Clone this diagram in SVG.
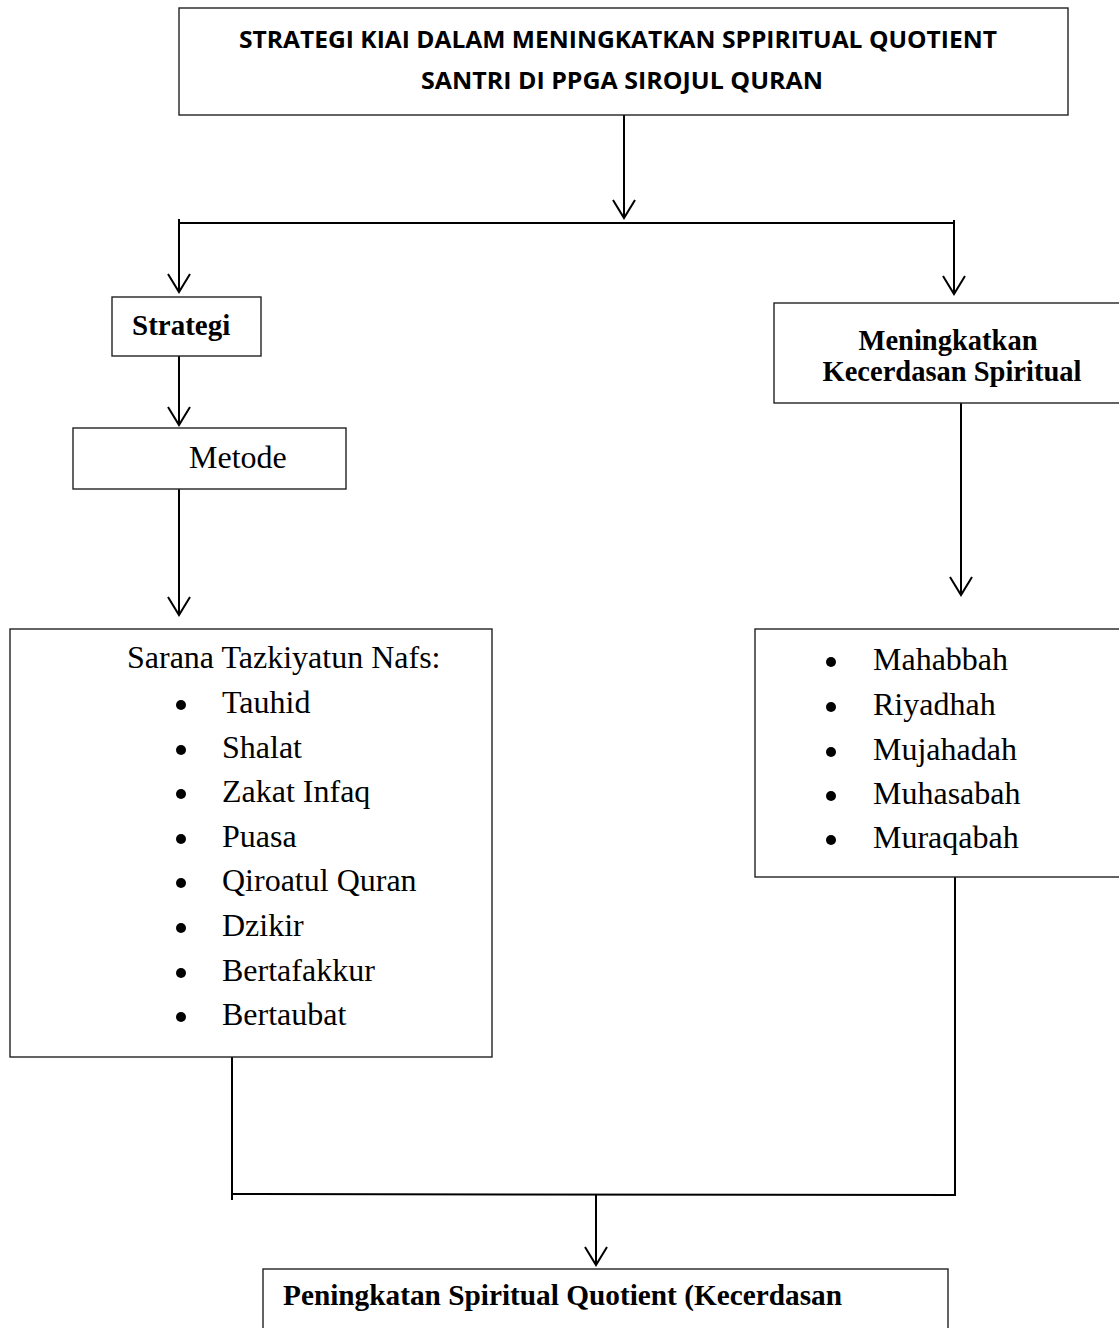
<svg xmlns="http://www.w3.org/2000/svg" width="1119" height="1328" viewBox="0 0 1119 1328">
<style>
.box{fill:#fff;stroke:#222;stroke-width:1.4}
.con{fill:none;stroke:#000;stroke-width:2}
.title{font-family:"Open Sans","Liberation Sans",sans-serif;font-weight:bold;font-size:22.5px;fill:#000}
.tb{font-family:"Liberation Serif",serif;font-weight:bold;fill:#000}
.tr{font-family:"Liberation Serif",serif;font-size:32px;fill:#000}
.dot{fill:#000}
</style>
<defs>
<marker id="arr" viewBox="-1 -1 21 25" refX="18" refY="11" markerWidth="21" markerHeight="25" orient="auto" markerUnits="userSpaceOnUse">
<path d="M0,0 L18,11 L0,22" fill="none" stroke="#000" stroke-width="2"/>
</marker>
</defs>
<rect width="1119" height="1328" fill="#fff"/>
<g id="connectors">
<line class="con" x1="624" y1="115" x2="624" y2="218" marker-end="url(#arr)"/>
<line class="con" x1="179" y1="223" x2="954" y2="223"/>
<line class="con" x1="179" y1="219" x2="179" y2="292" marker-end="url(#arr)"/>
<line class="con" x1="954" y1="220" x2="954" y2="294" marker-end="url(#arr)"/>
<line class="con" x1="179" y1="356" x2="179" y2="425" marker-end="url(#arr)"/>
<line class="con" x1="179" y1="489" x2="179" y2="615" marker-end="url(#arr)"/>
<line class="con" x1="961" y1="403" x2="961" y2="595" marker-end="url(#arr)"/>
<line class="con" x1="232" y1="1057" x2="232" y2="1200"/>
<line class="con" x1="955" y1="877" x2="955" y2="1196"/>
<line class="con" x1="232" y1="1194" x2="955" y2="1195"/>
<line class="con" x1="596" y1="1194" x2="596" y2="1265" marker-end="url(#arr)"/>
</g>
<g id="node-title">
<rect class="box" x="179" y="8" width="889" height="107"/>
<text class="title" x="239" y="48" textLength="758" lengthAdjust="spacingAndGlyphs">STRATEGI KIAI DALAM MENINGKATKAN SPPIRITUAL QUOTIENT</text>
<text class="title" x="421" y="89" textLength="402" lengthAdjust="spacingAndGlyphs">SANTRI DI PPGA SIROJUL QURAN</text>
</g>
<g id="node-strategi">
<rect class="box" x="112" y="297" width="149" height="59"/>
<text class="tb" x="132" y="335" font-size="29">Strategi</text>
</g>
<g id="node-metode">
<rect class="box" x="73" y="428" width="273" height="61"/>
<text class="tr" x="189" y="468" font-size="31.5">Metode</text>
</g>
<g id="node-meningkatkan">
<rect class="box" x="774" y="303" width="360" height="100"/>
<text class="tb" x="948" y="350" font-size="28.5" text-anchor="middle">Meningkatkan</text>
<text class="tb" x="952" y="381" font-size="28.5" text-anchor="middle">Kecerdasan Spiritual</text>
</g>
<g id="node-sarana">
<rect class="box" x="10" y="629" width="482" height="428"/>
<text class="tr" x="127" y="668">Sarana Tazkiyatun Nafs:</text>
<circle class="dot" cx="181" cy="705" r="5"/><text class="tr" x="222" y="713">Tauhid</text>
<circle class="dot" cx="181" cy="750" r="5"/><text class="tr" x="222" y="758">Shalat</text>
<circle class="dot" cx="181" cy="794" r="5"/><text class="tr" x="222" y="802">Zakat Infaq</text>
<circle class="dot" cx="181" cy="839" r="5"/><text class="tr" x="222" y="847">Puasa</text>
<circle class="dot" cx="181" cy="883" r="5"/><text class="tr" x="222" y="891">Qiroatul Quran</text>
<circle class="dot" cx="181" cy="928" r="5"/><text class="tr" x="222" y="936">Dzikir</text>
<circle class="dot" cx="181" cy="973" r="5"/><text class="tr" x="222" y="981">Bertafakkur</text>
<circle class="dot" cx="181" cy="1017" r="5"/><text class="tr" x="222" y="1025">Bertaubat</text>
</g>
<g id="node-mahabbah">
<rect class="box" x="755" y="629" width="380" height="248"/>
<circle class="dot" cx="831" cy="662" r="5"/><text class="tr" x="873" y="670">Mahabbah</text>
<circle class="dot" cx="831" cy="707" r="5"/><text class="tr" x="873" y="715">Riyadhah</text>
<circle class="dot" cx="831" cy="752" r="5"/><text class="tr" x="873" y="760">Mujahadah</text>
<circle class="dot" cx="831" cy="796" r="5"/><text class="tr" x="873" y="804">Muhasabah</text>
<circle class="dot" cx="831" cy="840" r="5"/><text class="tr" x="873" y="848">Muraqabah</text>
</g>
<g id="node-peningkatan">
<rect class="box" x="263" y="1269" width="685" height="80"/>
<text class="tb" x="283" y="1305" font-size="29" textLength="559" lengthAdjust="spacingAndGlyphs">Peningkatan Spiritual Quotient (Kecerdasan</text>
</g>
</svg>
